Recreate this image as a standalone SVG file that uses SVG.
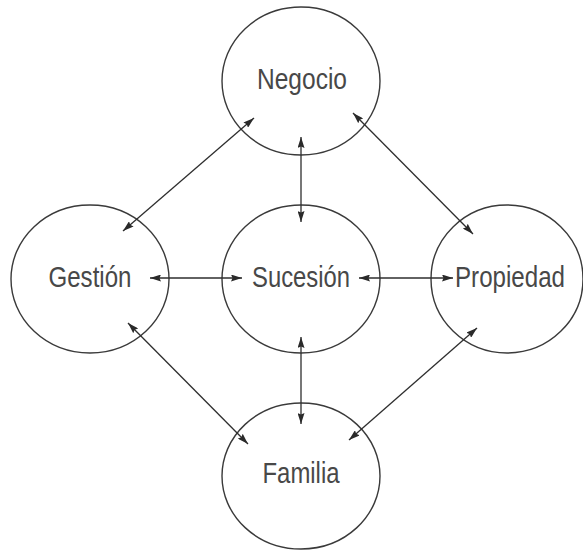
<svg xmlns="http://www.w3.org/2000/svg" width="583" height="551" viewBox="0 0 583 551">
<defs>
<marker id="ah" viewBox="0 0 11 7" refX="11" refY="3.5" markerWidth="11" markerHeight="7" markerUnits="userSpaceOnUse" orient="auto-start-reverse">
<path d="M0,0 L11,3.5 L0,7 L1.5,3.5 Z" fill="#2a2a2a"/>
</marker>
</defs>
<style>
.node ellipse{fill:none;stroke:#3a3a3a;stroke-width:1.4}
.node text{font-family:"Liberation Sans Narrow","Liberation Sans",Arial,sans-serif;font-size:29px;fill:#484848;text-anchor:middle}
.conn line{stroke:#2e2e2e;stroke-width:1.3;marker-start:url(#ah);marker-end:url(#ah)}
</style>
<rect width="583" height="551" fill="#ffffff"/>
<g id="negocio" class="node">
<ellipse cx="301" cy="81" rx="79" ry="74"/>
<text x="302" y="89" textLength="90" lengthAdjust="spacingAndGlyphs">Negocio</text>
</g>
<g id="gestion" class="node">
<ellipse cx="90" cy="279" rx="79" ry="74"/>
<text x="90" y="287" textLength="83" lengthAdjust="spacingAndGlyphs">Gestión</text>
</g>
<g id="sucesion" class="node">
<ellipse cx="301" cy="279" rx="79" ry="74"/>
<text x="301" y="287" textLength="98" lengthAdjust="spacingAndGlyphs">Sucesión</text>
</g>
<g id="propiedad" class="node">
<ellipse cx="507" cy="279" rx="76" ry="74"/>
<text x="510" y="287" textLength="110" lengthAdjust="spacingAndGlyphs">Propiedad</text>
</g>
<g id="familia" class="node">
<ellipse cx="301" cy="476" rx="79" ry="73"/>
<text x="301" y="483" textLength="77" lengthAdjust="spacingAndGlyphs">Familia</text>
</g>
<g id="connectors" class="conn">
<line x1="254" y1="118" x2="123" y2="231"/>
<line x1="353" y1="113" x2="473" y2="234"/>
<line x1="301" y1="137" x2="301" y2="222"/>
<line x1="150" y1="278" x2="242" y2="278"/>
<line x1="359" y1="278" x2="453" y2="278"/>
<line x1="301" y1="337" x2="301" y2="424"/>
<line x1="128" y1="323" x2="248" y2="444"/>
<line x1="477" y1="328" x2="349" y2="440"/>
</g>
</svg>
